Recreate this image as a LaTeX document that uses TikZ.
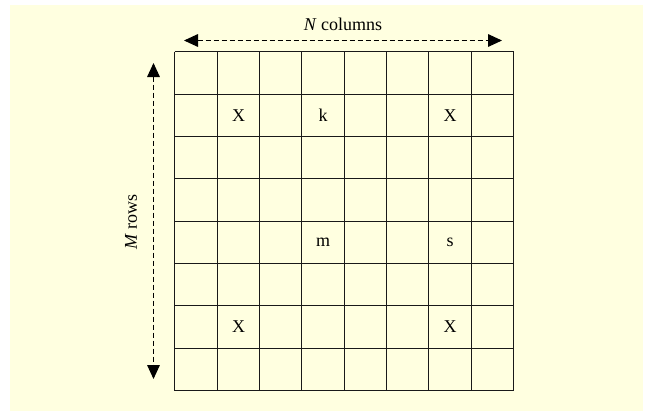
\documentclass[tikz,border=0pt]{standalone}
\usepackage{fontspec}
\setmainfont{Liberation Serif}
\usetikzlibrary{arrows.meta, positioning, calc}
\definecolor{cream}{RGB}{255,255,224}
\tikzstyle{rule}  = [draw=black!90, line width=0.8pt]
\tikzstyle{lbl}   = [font=\fontsize{13.5}{16}\selectfont]
\tikzstyle{arr}   = [{Triangle[length=10.5pt,width=9.5pt]}-{Triangle[length=10.5pt,width=9.5pt]},
                     line width=0.8pt, dash pattern=on 3.6pt off 2.4pt]

\begin{document}
\begin{tikzpicture}[x=0.75pt, y=-0.75pt]
    \useasboundingbox (0,0) rectangle (647,411);
    \fill[cream] (10,5) rectangle (643,411);

    % 8 x 8 board
    \foreach \x in {174.5,217.5,259.5,301.5,344.5,386.5,428.5,471.5,513.5}
      \draw[rule] (\x,51.5) -- (\x,390.5);
    \foreach \y in {51.5,94.5,136.5,178.5,221.5,263.5,305.5,348.5,390.5}
      \draw[rule] (174.5,\y) -- (513.5,\y);

    \node[lbl] (x1) at (238.5,115.5) {X};
    \node[lbl] (k)  at (323,115.5)   {k};
    \node[lbl] (x2) at (450,115.5)   {X};
    \node[lbl] (m)  at (323,242.5)   {m};
    \node[lbl] (s)  at (450,242.5)   {s};
    \node[lbl] (x3) at (238.5,327)   {X};
    \node[lbl] (x4) at (450,327)     {X};

    % dimension arrows
    \coordinate (colL) at (184,40.5);
    \coordinate (colR) at (502,40.5);
    \coordinate (rowT) at (153.5,63);
    \coordinate (rowB) at (153.5,379);
    \draw[arr] (colL) -- (colR);
    \draw[arr] (rowT) -- (rowB);

    \node[lbl] (ncol) at (343,24) {\textit{N} columns};
    \node[lbl, rotate=90] (mrow) at (131,222) {\textit{M} rows};
\end{tikzpicture}
\end{document}
